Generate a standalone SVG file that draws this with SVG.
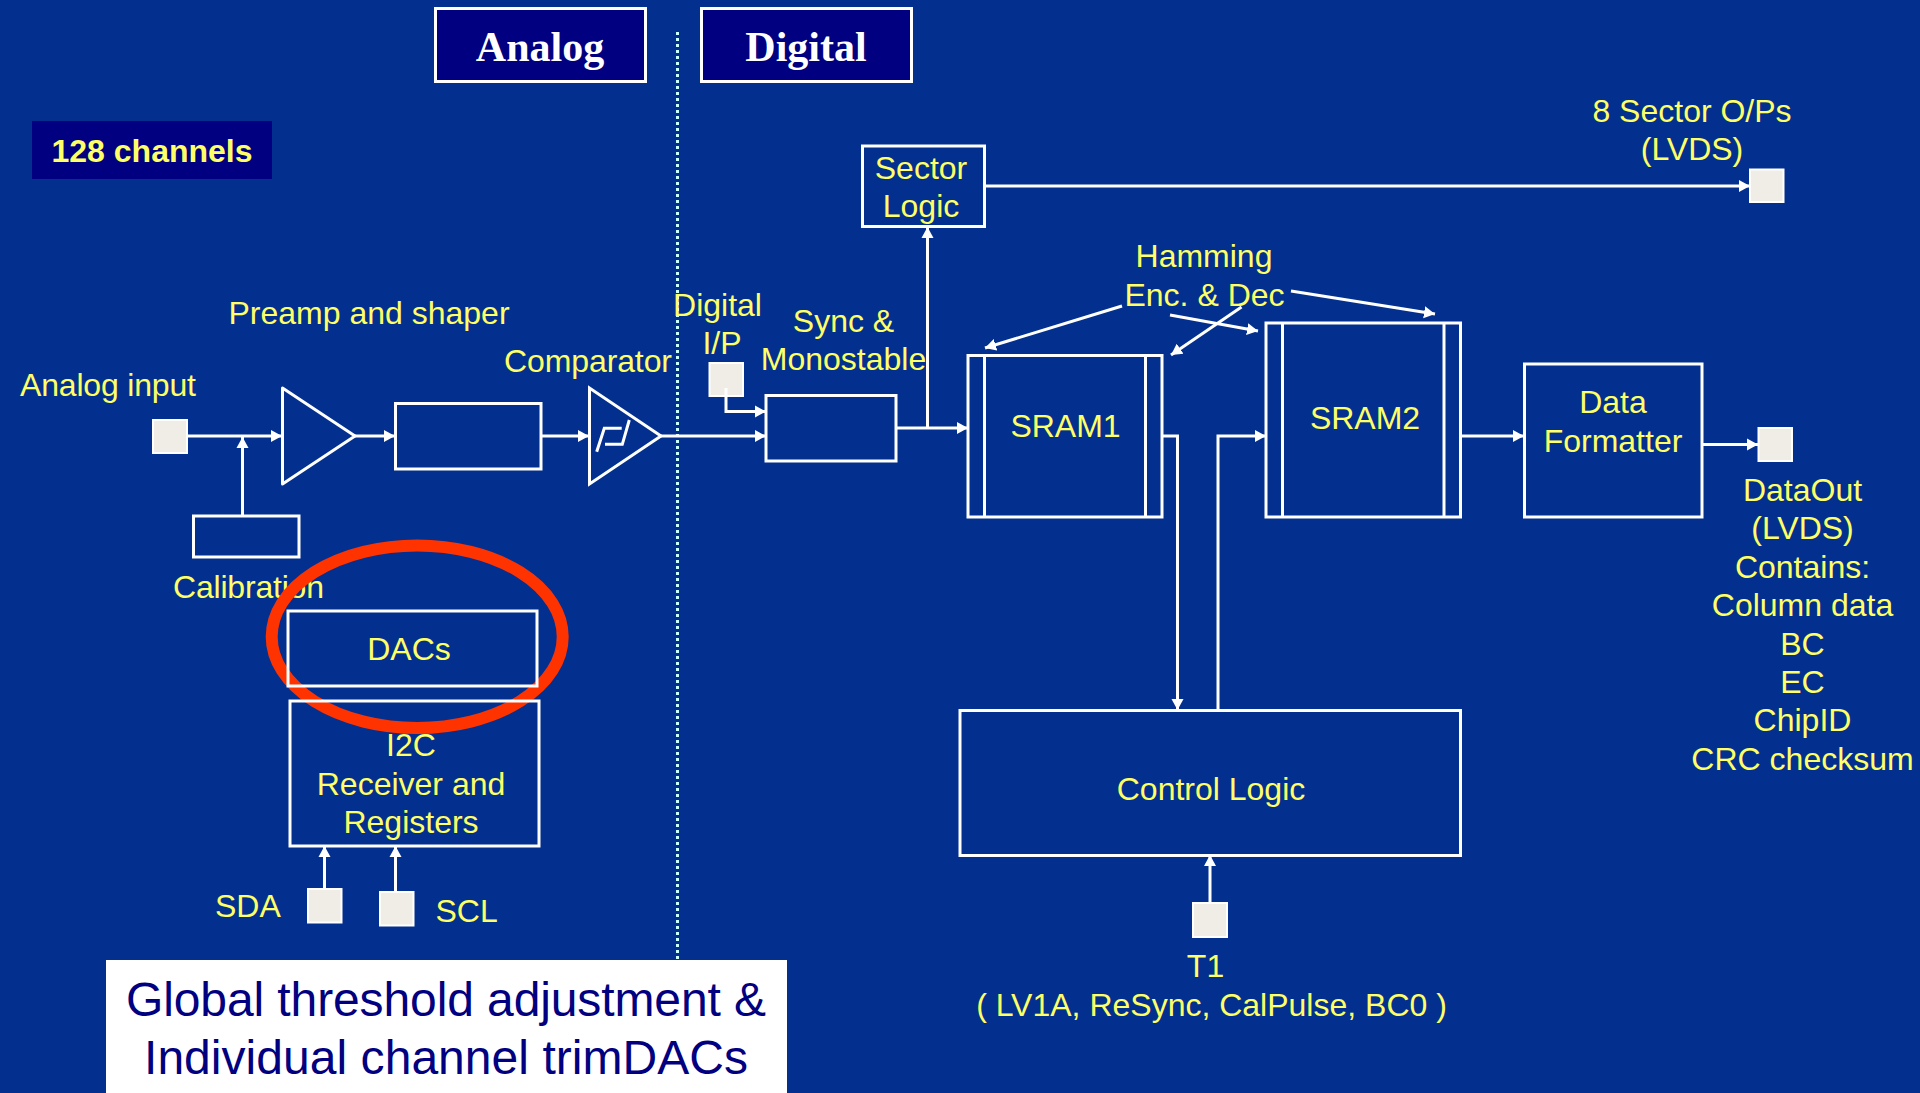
<svg xmlns="http://www.w3.org/2000/svg" width="1920" height="1093" viewBox="0 0 1920 1093">
<style>
.b{fill:none;stroke:#fff;stroke-width:3}
.c{fill:none;stroke:#fff;stroke-width:3}
.a{marker-end:url(#ah)}
.p{fill:#f0ede6;stroke:#fff;stroke-width:2}
.t{font-family:"Liberation Sans",Arial,sans-serif;font-size:32px;fill:#ffff66}
.m{text-anchor:middle}
.h{font-family:"Liberation Serif","Times New Roman",serif;font-weight:bold;font-size:42px;fill:#fff;text-anchor:middle}
</style>
<defs>
<marker id="ah" markerUnits="userSpaceOnUse" markerWidth="14" markerHeight="14" refX="11" refY="7" orient="auto"><path d="M0 1 L11 7 L0 13 Z" fill="#fff"/></marker>
</defs>
<rect width="1920" height="1093" fill="#03308f"/>
<g id="divider"><line x1="677.5" y1="32" x2="677.5" y2="960" stroke="#ccffff" stroke-width="3" stroke-dasharray="3 3"/></g>
<g id="analog-tag"><rect x="435.5" y="8.5" width="210" height="73" fill="#000080" stroke="#fff" stroke-width="3"/><text class="h" x="540" y="61">Analog</text></g>
<g id="digital-tag"><rect x="701.5" y="8.5" width="210" height="73" fill="#000080" stroke="#fff" stroke-width="3"/><text class="h" x="806" y="61">Digital</text></g>
<g id="channels"><rect x="32" y="121" width="240" height="58" fill="#000080"/><text class="t m" x="152" y="162" font-weight="bold">128 channels</text></g>
<g id="connectors">
<path class="c a" d="M187 436H282"/>
<path class="c a" d="M242.500 516V437"/>
<path class="c a" d="M355 436H395"/>
<path class="c a" d="M541 436H589"/>
<path class="c a" d="M661 436H766"/>
<path class="c a" d="M726 388V411.500H766"/>
<path class="c a" d="M896 428H968"/>
<path class="c a" d="M927.500 428V227"/>
<path class="c a" d="M984 186H1750"/>
<path class="c a" d="M1162 436H1177.500V710"/>
<path class="c a" d="M1218 710V436H1266"/>
<path class="c a" d="M1460 436H1524"/>
<path class="c a" d="M1702 444.500H1758"/>
<path class="c a" d="M1210 902V855"/>
<path class="c a" d="M324.500 889V846"/>
<path class="c a" d="M395.500 891V846"/>
<path class="c a" d="M1122 306L985 348"/>
<path class="c a" d="M1241.500 307L1171 355"/>
<path class="c a" d="M1170 315L1258 331"/>
<path class="c a" d="M1291 291L1435 314"/>
</g>
<g id="analog-input"><rect class="p" x="153" y="420" width="34" height="33"/><text class="t" x="20" y="396" textLength="176">Analog input</text></g>
<g id="preamp"><path class="b" d="M282.500 388V484L355 436Z" stroke-linejoin="round"/></g>
<g id="shaper"><rect class="b" x="395.500" y="403.500" width="145.500" height="65.500"/><text class="t m" x="369" y="324">Preamp and shaper</text></g>
<g id="comparator"><path class="b" d="M589.500 388V484L661 436Z"/><path class="c" d="M596.700 451.700L604.300 428.300H621.700M605 444.300H622.300L629.300 420"/><text class="t" x="504" y="372" textLength="168">Comparator</text></g>
<g id="calibration"><rect class="b" x="193.500" y="516" width="105.500" height="41"/><text class="t" x="173" y="598" textLength="151">Calibration</text></g>
<g id="highlight"><ellipse cx="417.200" cy="636.700" rx="145.500" ry="91.300" fill="none" stroke="#ff3300" stroke-width="12"/></g>
<g id="dacs"><rect class="b" x="288" y="611" width="249" height="75"/><text class="t m" x="409" y="660">DACs</text></g>
<g id="i2c"><rect class="b" x="290" y="701" width="249" height="145"/><text class="t m" x="411" y="756">I2C</text><text class="t m" x="411" y="795">Receiver and</text><text class="t m" x="411" y="833">Registers</text></g>
<g id="sda"><rect class="p" x="308" y="889" width="33.500" height="33.500"/><text class="t" x="215" y="917">SDA</text></g>
<g id="scl"><rect class="p" x="380" y="892" width="33.500" height="33.500"/><text class="t" x="435.500" y="922">SCL</text></g>
<g id="digital-ip"><rect class="p" x="709.500" y="363" width="33.500" height="33"/><path class="c" d="M726 388V396"/><text class="t m" x="717.500" y="316">Digital</text><text class="t m" x="722" y="354">I/P</text></g>
<g id="sync"><rect class="b" x="766" y="395.500" width="130" height="65.500"/><text class="t m" x="843.500" y="332">Sync &amp;</text><text class="t m" x="843.500" y="370">Monostable</text></g>
<g id="sector-logic"><rect class="b" x="862.500" y="146" width="122" height="80.500"/><text class="t m" x="921" y="179">Sector</text><text class="t m" x="921" y="217">Logic</text></g>
<g id="sector-out"><rect class="p" x="1750" y="169.500" width="33.500" height="32.500"/><text class="t m" x="1692" y="122">8 Sector O/Ps</text><text class="t m" x="1692" y="160">(LVDS)</text></g>
<g id="hamming"><text class="t m" x="1204" y="267">Hamming</text><text class="t m" x="1204.500" y="306">Enc. &amp; Dec</text></g>
<g id="sram1"><rect class="b" x="968" y="355.500" width="194" height="161.500"/><path class="b" d="M984.500 355.500V517M1145.500 355.500V517"/><text class="t m" x="1065.500" y="437">SRAM1</text></g>
<g id="sram2"><rect class="b" x="1266" y="323" width="194.500" height="194"/><path class="b" d="M1282.500 323V517M1444 323V517"/><text class="t m" x="1365" y="429">SRAM2</text></g>
<g id="formatter"><rect class="b" x="1524.500" y="364" width="177.500" height="153"/><text class="t m" x="1613" y="413">Data</text><text class="t m" x="1613" y="452">Formatter</text></g>
<g id="data-out"><rect class="p" x="1758.500" y="428" width="33.500" height="33"/>
<text class="t m" x="1802.500" y="501">DataOut</text><text class="t m" x="1802.500" y="539">(LVDS)</text><text class="t m" x="1802.500" y="578">Contains:</text><text class="t m" x="1802.500" y="616">Column data</text><text class="t m" x="1802.500" y="655">BC</text><text class="t m" x="1802.500" y="693">EC</text><text class="t m" x="1802.500" y="731">ChipID</text><text class="t m" x="1802.500" y="770">CRC checksum</text></g>
<g id="control-logic"><rect class="b" x="960" y="710.500" width="500.500" height="145"/><text class="t m" x="1211" y="800">Control Logic</text></g>
<g id="t1"><rect class="p" x="1193" y="903" width="34" height="34"/><text class="t m" x="1205.500" y="977">T1</text><text class="t m" x="1211.500" y="1016">( LV1A, ReSync, CalPulse, BC0 )</text></g>
<g id="caption"><rect x="106" y="960" width="681" height="133" fill="#fff"/><text x="446" y="1016" text-anchor="middle" font-family="'Liberation Sans',Arial,sans-serif" font-size="48" fill="#000080" textLength="640">Global threshold adjustment &amp;</text><text x="446" y="1074" text-anchor="middle" font-family="'Liberation Sans',Arial,sans-serif" font-size="48" fill="#000080" textLength="604">Individual channel trimDACs</text></g>
</svg>
